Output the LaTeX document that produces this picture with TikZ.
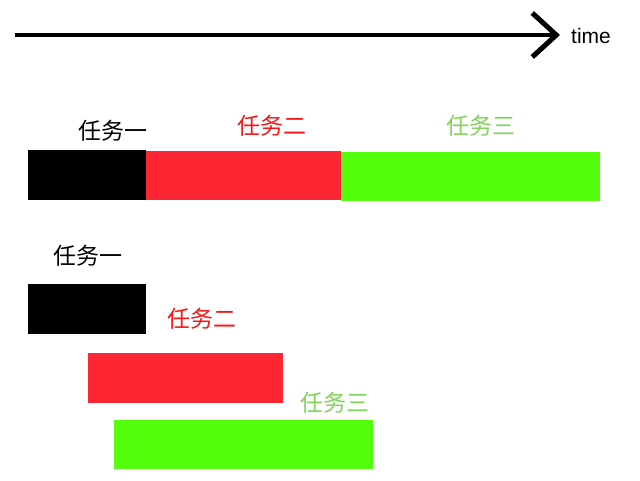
\documentclass[tikz,border=0pt]{standalone}
\usepackage{fontspec}
\setmainfont{Noto Sans CJK SC}
\newfontfamily\latinfont{Liberation Sans}
\usepackage{tikz}
\usetikzlibrary{arrows.meta}
\usepackage{xcolor}
\definecolor{taskred}{RGB}{253,38,51}
\definecolor{taskgreen}{RGB}{84,255,14}
\definecolor{labelred}{RGB}{250,20,20}
\definecolor{labelgreen}{RGB}{128,212,90}

\begin{document}
\begin{tikzpicture}[x=1pt,y=-1pt]
  \tikzset{lbl/.style={inner sep=0pt,font=\fontsize{23}{23}\selectfont}}
  \useasboundingbox (0,0) rectangle (640,480);
  \coordinate (t0) at (15,35);
  \coordinate (t1) at (560,35);
  \draw[line width=4pt,-{Straight Barb[length=24pt,width=44pt,line width=5pt]}] (t0) -- (t1);
  \node[inner sep=0pt,anchor=west,font=\latinfont\fontsize{21}{21}\selectfont] (time) at (571,36) {time};

  % serial
  \fill[black] (28,150) rectangle (146,200);
  \fill[taskred] (146,151) rectangle (341,200);
  \fill[taskgreen] (341,152) rectangle (600,201);
  \node[lbl,black] (sa) at (113,131) {任务一};
  \node[lbl,labelred] (sb) at (272,126) {任务二};
  \node[lbl,labelgreen] (sc) at (481,126) {任务三};

  % parallel
  \fill[black] (28,284) rectangle (146,334);
  \fill[taskred] (88,353) rectangle (283,403);
  \fill[taskgreen] (114,420) rectangle (373,469);
  \node[lbl,black] (pa) at (88,256) {任务一};
  \node[lbl,labelred] (pb) at (202,319) {任务二};
  \node[lbl,labelgreen] (pc) at (335,403) {任务三};
\end{tikzpicture}
\end{document}
